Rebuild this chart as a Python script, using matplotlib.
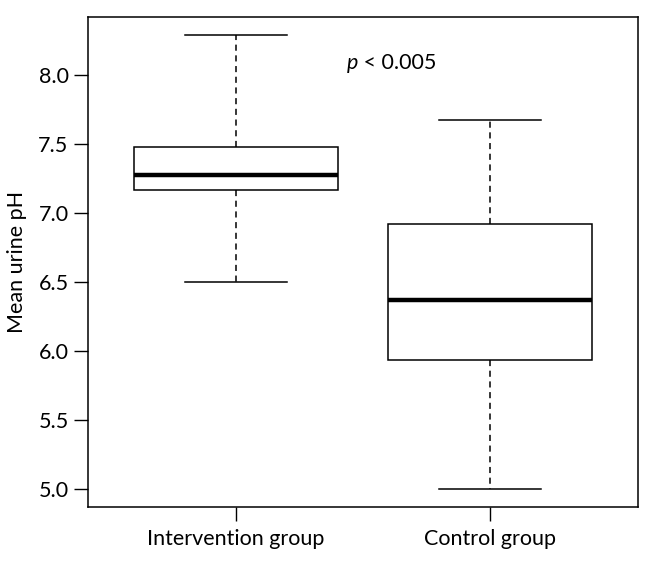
import matplotlib
matplotlib.use('Agg')
import matplotlib.pyplot as plt

groups = ['Intervention group', 'Control group']
whislo = [6.50, 5.00]
q1 = [7.165, 5.93]
med = [7.275, 6.365]
q3 = [7.48, 6.92]
whishi = [8.29, 7.67]
p_text = '< 0.005'

plt.rcParams['font.family'] = ['Lato', 'DejaVu Sans']
fs = 15.5

fig = plt.figure(figsize=(6.46, 5.67), dpi=100)
ax = fig.add_axes([88/646, 1-507/567, 550/646, 490/567])

stats = []
for i in range(len(groups)):
    stats.append(dict(label=groups[i], whislo=whislo[i], q1=q1[i], med=med[i],
                      q3=q3[i], whishi=whishi[i], fliers=[]))

ax.bxp(stats, positions=[1, 2], widths=0.8, showfliers=False,
       patch_artist=True,
       boxprops=dict(facecolor='white', edgecolor='black', linewidth=1.1),
       medianprops=dict(color='black', linewidth=3.2, solid_capstyle='butt'),
       whiskerprops=dict(color='black', linewidth=1.1, linestyle=(0, (4, 3))),
       capprops=dict(color='black', linewidth=1.1),
       capwidths=0.4)

ax.set_xlim(0.42, 2.58)
ax.set_ylim(4.866, 8.42)
ax.set_yticks([5.0, 5.5, 6.0, 6.5, 7.0, 7.5, 8.0])
ax.set_yticklabels(['5.0', '5.5', '6.0', '6.5', '7.0', '7.5', '8.0'])
ax.set_xticks([1, 2])
ax.set_xticklabels(groups)
ax.tick_params(axis='both', labelsize=fs, length=10, width=1, pad=4, colors='black')
ax.tick_params(axis='x', pad=6)
for s in ax.spines.values():
    s.set_linewidth(1.1)
ax.set_ylabel('Mean urine pH', fontsize=fs, labelpad=8)

tp = ax.text(1.437, 8.085, 'p', fontsize=fs, ha='left', va='center', fontstyle='italic')
ax.annotate(' ' + p_text, xy=(1, 0.5), xycoords=tp, fontsize=fs, ha='left', va='center')

fig.savefig('out.png', dpi=100)
